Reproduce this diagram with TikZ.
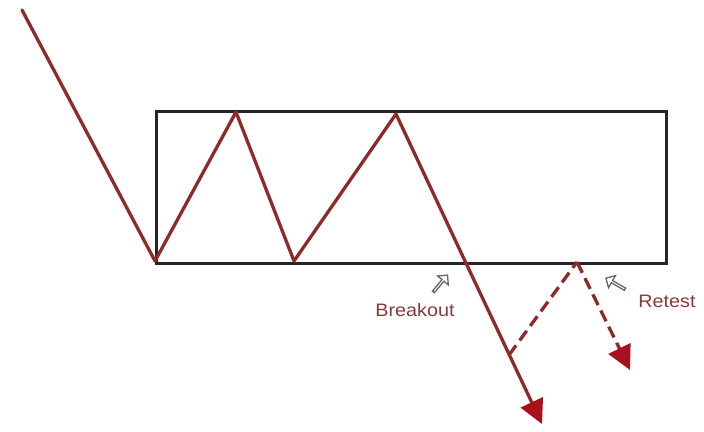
\documentclass[tikz,border=0pt]{standalone}
\usepackage{fontspec}
\setmainfont{Liberation Sans}
\usetikzlibrary{arrows.meta,shapes.arrows}
\definecolor{linered}{HTML}{8E2A2A}
\definecolor{tipred}{HTML}{A8101C}
\definecolor{txtred}{HTML}{8A3A3A}
\tikzset{
  box/.style={draw=black!85, line width=2.8pt},
  price/.style={draw=linered, line width=3.3pt, line cap=round, line join=round},
  dashprice/.style={draw=linered, line width=3.3pt, dash pattern=on 12pt off 6pt},
  tipstyle/.style={-{Triangle[length=24pt,width=24pt,fill=tipred,color=tipred]}},
  hollow/.style={single arrow, draw=black!60, line width=1.3pt, fill=white,
    minimum height=22pt, minimum width=14pt, single arrow head extend=3pt, inner sep=0pt},
  lbl/.style={text=txtred, font=\fontsize{18}{20}\selectfont, inner sep=0pt}
}
\begin{document}
\begin{tikzpicture}[x=1pt,y=-1pt]
\useasboundingbox (0,0) rectangle (704,431);
\fill[white] (0,0) rectangle (704,431);
\node[box, minimum width=510pt, minimum height=152pt, anchor=north west, inner sep=0pt] (rect) at (155,110) {};
\coordinate (s) at (22,10);
\coordinate (p1) at (155,261);
\coordinate (p2) at (236,112);
\coordinate (p3) at (294,261);
\coordinate (p4) at (396,114);
\coordinate (p5) at (465,261);
\coordinate (d1) at (509,355);
\coordinate (e) at (542,424);
\coordinate (r1) at (577,262);
\coordinate (r2) at (630,370);
\draw[price] (s) -- (p1) -- (p2) -- (p3) -- (p4) -- (p5);
\draw[price, tipstyle] (p5) -- (e);
\draw[dashprice] (d1) -- (r1);
\draw[dashprice, tipstyle] (r1) -- (r2);
\node[hollow, rotate=50] (ba) at (440,284) {};
\node[hollow, rotate=150] (ra) at (616,284) {};
\node[lbl, xscale=1.1] (bl) at (415,310) {Breakout};
\node[lbl, xscale=1.1] (rl) at (667,301) {Retest};
\end{tikzpicture}
\end{document}
